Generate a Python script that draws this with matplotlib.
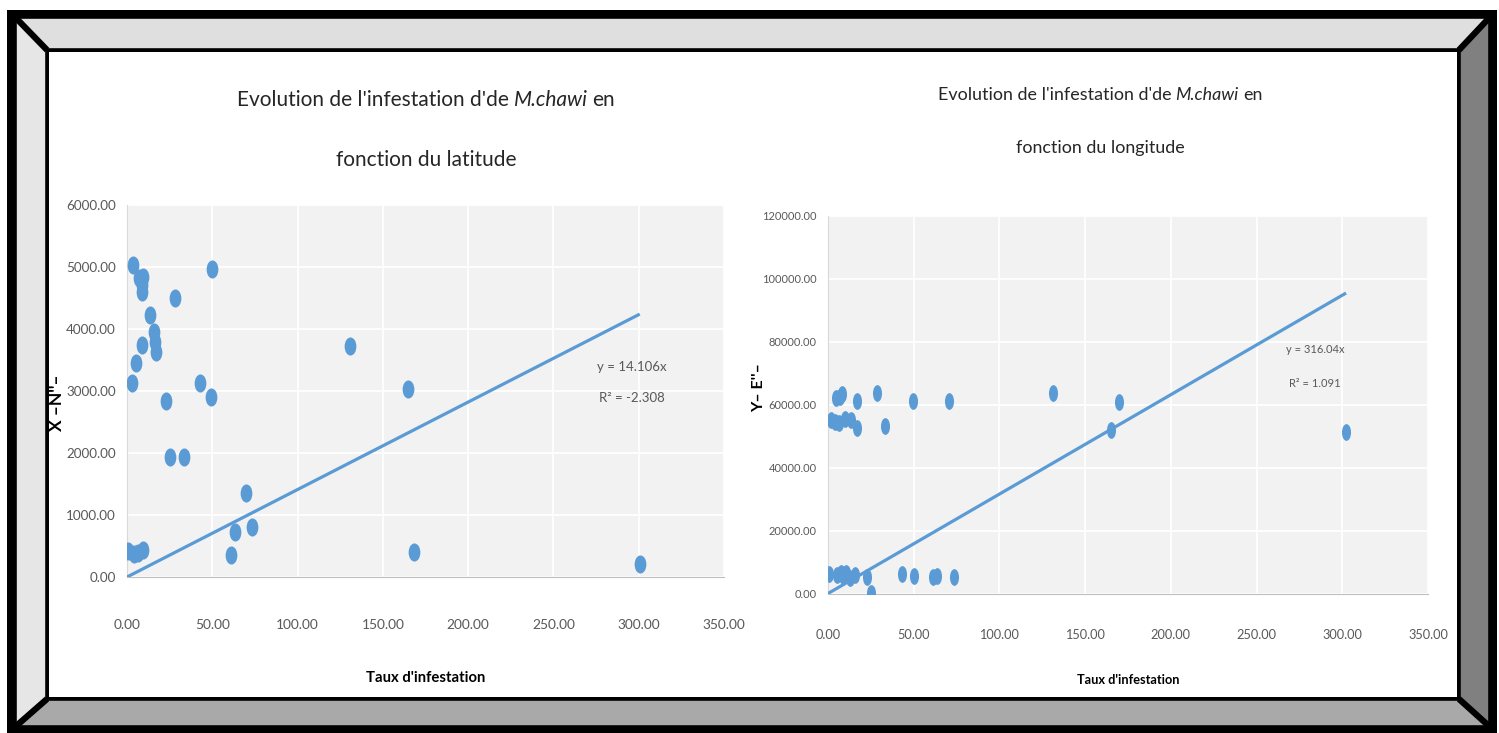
import matplotlib
matplotlib.use("Agg")
import matplotlib.pyplot as plt
from matplotlib.path import Path
from matplotlib.patches import Polygon, Rectangle
from matplotlib.transforms import Affine2D

# Infestation rate vs latitude (X, N)
lat_rate = [3.7, 7.2, 9.6, 8.6, 8.8, 50.0, 28.3, 13.5, 15.8, 16.6, 16.8, 9.0, 5.1,
            2.7, 22.7, 42.6, 49.2, 25.2, 33.4, 130.7, 69.6, 63.3, 73.2, 60.8,
            0.6, 4.2, 6.3, 9.2, 164.7, 168.2, 300.6]
lat_val = [5032, 4818, 4834, 4710, 4602, 4968, 4505, 4226, 3957, 3796, 3634, 3742, 3447,
           3124, 2839, 3124, 2908, 1941, 1941, 3726, 1350, 731, 801, 355,
           420, 370, 390, 430, 3032, 403, 210]
lat_slope = 14.106
lat_r2 = "-2.308"

# Infestation rate vs longitude (Y, E)
lon_rate = [4.9, 6.8, 8.4, 16.9, 28.6, 49.3, 70.3, 131.4, 169.8, 2.0, 3.9, 6.4, 9.8,
            13.7, 16.9, 33.5, 165.1, 302.2, 0.6, 5.5, 7.5, 8.8, 10.3, 13.1, 16.0,
            22.8, 24.9, 43.2, 50.0, 61.0, 63.7, 73.6]
lon_val = [62070, 62580, 63440, 61310, 63660, 61310, 61310, 63660, 61000, 55170, 54640,
           54320, 55390, 55170, 52530, 53270, 52000, 51460, 6200, 5900, 6400, 5500,
           6400, 4830, 5880, 5350, 300, 6200, 5570, 5150, 5570, 5150]
lon_slope = 316.04
lon_r2 = "1.091"

x_ticks = [0, 50, 100, 150, 200, 250, 300, 350]
lat_ticks = [0, 1000, 2000, 3000, 4000, 5000, 6000]
lon_ticks = [0, 20000, 40000, 60000, 80000, 100000, 120000]

plt.rcParams["font.family"] = ["Lato", "DejaVu Sans"]
plt.rcParams["font.weight"] = "normal"

W, H = 1499, 733
fig = plt.figure(figsize=(W / 100, H / 100), dpi=100)
fig.patch.set_facecolor("white")


def fx(x):
    return x / W


def fy(y):
    return 1 - y / H


# ---- beveled picture frame ----
frame = fig.add_axes([0, 0, 1, 1], zorder=0)
frame.set_xlim(0, W)
frame.set_ylim(H, 0)
frame.axis("off")
frame.add_patch(Rectangle((7, 10), 1490, 730, facecolor="black", edgecolor="none"))
o = (15, 17, 1490, 727)   # outer edge of the bevel
i = (47, 50, 1459, 699)   # inner edge of the bevel
bands = [
    ([(o[0], o[1]), (o[2], o[1]), (i[2], i[1]), (i[0], i[1])], "#dfdfdf"),
    ([(o[0], o[1]), (i[0], i[1]), (i[0], i[3]), (o[0], o[3])], "#e6e6e6"),
    ([(o[2], o[1]), (o[2], o[3]), (i[2], i[3]), (i[2], i[1])], "#808080"),
    ([(o[0], o[3]), (i[0], i[3]), (i[2], i[3]), (o[2], o[3])], "#a9a9a9"),
]
for pts, col in bands:
    frame.add_patch(Polygon(pts, closed=True, facecolor=col, edgecolor="black", lw=2.6))
for (x0, y0), (x1, y1) in [((o[0], o[1]), (i[0], i[1])), ((o[2], o[1]), (i[2], i[1])),
                           ((o[0], o[3]), (i[0], i[3])), ((o[2], o[3]), (i[2], i[3]))]:
    frame.plot([x0, x1], [y0, y1], color="black", lw=4.5, solid_capstyle="butt")
frame.add_patch(Rectangle((49, 52), 1408, 645, facecolor="white", edgecolor="none"))

BLUE = "#5b9bd5"
GRAY = "#595959"
TITLE = "#262626"


def ellipse(sx):
    return Path.unit_circle().transformed(Affine2D().scale(sx, 1.0))


def scatter_panel(rect, xs, ys, slope, yticks, ymax, marker_w, ms):
    ax = fig.add_axes(rect, zorder=1)
    ax.set_facecolor("#f2f2f2")
    ax.set_xlim(0, 350)
    ax.set_ylim(0, ymax)
    ax.set_xticks(x_ticks)
    ax.set_yticks(yticks)
    ax.set_xticklabels([f"{v:.2f}" for v in x_ticks])
    ax.set_yticklabels([f"{v:.2f}" for v in yticks])
    ax.grid(True, color="white", lw=1.3)
    ax.set_axisbelow(True)
    for s in ("top", "right"):
        ax.spines[s].set_visible(False)
    ax.spines["bottom"].set_color("#bfbfbf")
    ax.spines["left"].set_color("#d9d9d9")
    ax.tick_params(length=0, colors=GRAY, labelsize=10)
    ax.tick_params(axis="y", pad=8)
    ax.plot(xs, ys, ls="none", marker=ellipse(marker_w), ms=ms, color=BLUE, zorder=3)
    xmax = max(xs)
    ax.plot([0, xmax], [0, slope * xmax], color=BLUE, lw=2.3, zorder=4,
            solid_capstyle="butt")
    return ax


ax_lat = scatter_panel([fx(127), fy(577), fx(724) - fx(127), fy(205) - fy(577)],
                       lat_rate, lat_val, lat_slope, lat_ticks, 6000, 0.62, 12)
ax_lon = scatter_panel([fx(828), fy(593.5), fx(1428) - fx(828), fy(216) - fy(593.5)],
                       lon_rate, lon_val, lon_slope, lon_ticks, 120000, 0.5, 11)

fig.canvas.draw()
R = fig.canvas.get_renderer()


def width_px(t):
    return t.get_window_extent(R).width


def fit_text(t, target):
    t.set_fontsize(t.get_fontsize() * target / width_px(t))


# ---- tick labels sized to their printed widths ----
def fit_ticks(ax, axis, idx, target):
    labels = ax.get_xticklabels() if axis == "x" else ax.get_yticklabels()
    size = labels[idx].get_fontsize() * target / width_px(labels[idx])
    ax.tick_params(axis=axis, labelsize=size)


fit_ticks(ax_lat, "y", -1, 50)
fit_ticks(ax_lat, "x", 0, 27)
fit_ticks(ax_lon, "y", -1, 54)
fit_ticks(ax_lon, "x", 0, 25)
fig.canvas.draw()
for ax, axis_y, label_y in ((ax_lat, 577, 625), (ax_lon, 593.5, 635)):
    h = ax.get_xticklabels()[0].get_window_extent(R).height
    ax.tick_params(axis="x", pad=max(2, (label_y - axis_y) - h / 2) * 0.72)


# ---- two-line titles with an italic species name ----
def title(cx, y1, y2, line2, target):
    pieces = [("Evolution de l'infestation d'de", "normal"), ("M.chawi", "italic"),
              ("en", "normal")]
    texts = [fig.text(0, fy(y1), s, style=st, fontsize=20, color=TITLE,
                      ha="left", va="center") for s, st in pieces]
    fig.canvas.draw()
    gap = 20 * 100 / 72 * 0.24
    total = sum(width_px(t) for t in texts) + 2 * gap
    k = target / total
    fs = 20 * k
    for t in texts:
        t.set_fontsize(fs)
    fig.canvas.draw()
    gap *= k
    total = sum(width_px(t) for t in texts) + 2 * gap
    x = cx - total / 2
    for t in texts:
        t.set_x(fx(x))
        x += width_px(t) + gap
    fig.text(fx(cx), fy(y2), line2, fontsize=fs, color=TITLE, ha="center", va="center")


title(426, 100, 160, "fonction du latitude", 379)
title(1100, 95, 148, "fonction du longitude", 324)

# ---- axis titles ----
xl1 = fig.text(fx(426), fy(678), "Taux d'infestation", ha="center", va="center",
               fontsize=12, fontweight="bold", color="black")
xl2 = fig.text(fx(1128), fy(680), "Taux d'infestation", ha="center", va="center",
               fontsize=12, fontweight="bold", color="black")
fig.text(fx(57), fy(403), "X \u2013N''\u2013", ha="center", va="center",
         rotation=90, fontsize=12.5, fontweight="bold", color="black")
fig.text(fx(759), fy(388), "Y\u2013 E''\u2013", ha="center", va="center",
         rotation=90, fontsize=11.5, fontweight="bold", color="black")

# ---- trendline equations ----
eq = [
    fig.text(fx(632), fy(367), f"y = {lat_slope:.3f}x", ha="center", va="center",
             fontsize=12, color=GRAY),
    fig.text(fx(632), fy(398), f"R\u00b2 = {lat_r2}", ha="center", va="center",
             fontsize=12, color=GRAY),
    fig.text(fx(1315), fy(350), f"y = {lon_slope:.2f}x", ha="center", va="center",
             fontsize=12, color=GRAY),
    fig.text(fx(1315), fy(383), f"R\u00b2 = {lon_r2}", ha="center", va="center",
             fontsize=12, color=GRAY),
]
fig.canvas.draw()
fit_text(xl1, 118)
fit_text(xl2, 102)
fit_text(eq[0], 69)
eq[1].set_fontsize(eq[0].get_fontsize())
fit_text(eq[2], 58)
eq[3].set_fontsize(eq[2].get_fontsize())

fig.savefig("out.png", dpi=100, facecolor="white")
